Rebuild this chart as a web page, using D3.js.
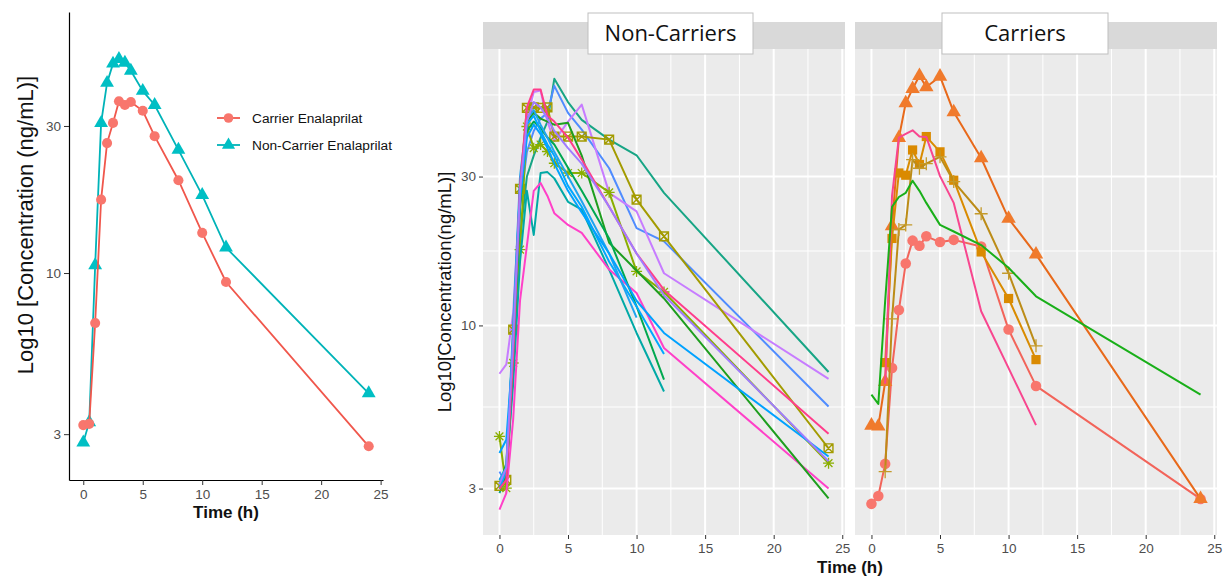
<!DOCTYPE html>
<html>
<head>
<meta charset="utf-8">
<script src="https://cdn.jsdelivr.net/npm/d3@7"></script>
<style>
  body { margin: 0; background: #fff; }
  text { font-family: Arial, "Liberation Sans", sans-serif; }
</style>
</head>
<body>
<div id="chart"></div>
<script>
// sampling times (h)
const hours = [0, 0.5, 1, 1.5, 2, 2.5, 3, 3.5, 4, 5, 6, 8, 10, 12, 24];
const xTicks = [0, 5, 10, 15, 20, 25];
const yTicks = [3, 10, 30];
const facetNames = ["Non-Carriers", "Carriers"];
const legendNames = ["Carrier Enalaprilat", "Non-Carrier Enalaprilat"];

// left panel: mean profiles
const carrierMean    = [3.21, 3.24, 6.88, 17.3, 26.4, 30.7, 36.1, 35.1, 35.9, 33.6, 27.8, 20.0, 13.5, 9.35, 2.74];
const nonCarrierMean = [2.82, 3.28, 10.6, 30.7, 41.4, 47.8, 49.5, 48.1, 45.3, 39.0, 35.1, 25.1, 17.9, 12.1, 4.07];

// non-carrier individuals
const nc01 = [2.9, 3.3, 7.5, 19, 30, 35, 40, 45, 61.7, 52, 45.6, 39.4, 35.1, 26.6, 7.09];
const nc02 = [3.4, 3.1, 8.5, 24, 36, 42, 46, 48, 58.6, 48, 42.4, 31.9, 20.5, 18.6, 5.5];
const nc03 = [7.0, 7.5, 11, 27, 46, 56, 56.6, 45, 39, 45, 51, 26.6, 23.2, 14.7, 6.74];
const nc04 = [3.06, 3.2, 9.7, 27.4, 49.8, 50, 49.8, 50, 40.3, 40.3, 40.3, 39.4, 25.3, 19.3, 4.04];
const nc05 = [4.41, 3.01, 7.58, 17.5, 43.4, 37, 38, 36.1, 33.1, 30.8, 30.8, 26.7, 14.9, 12.8, 3.62];
const nc06 = [3.2, 3.4, 6.5, 16, 27, 19.5, 30.8, 31, 29.6, 24.9, 23.5, 15.1, 9.46, 6.14, null];
const nc07 = [2.57, 2.9, 5, 12, 18, 27, 28.6, 26, 22.9, 21, 19.8, 15.1, 12.7, 8.47, 3.0];
const nc08 = [3.0, 3.3, 8, 24, 45, 48, 46, 45, 44, 44.6, 35, 18.4, 15, 12.2, 2.79];
const nc09 = [3.1, 3.6, 9, 26, 42, 45, 43, 40, 38, 32, 27, 19, 11.5, 6.7, null];
const nc10 = [3.0, 3.4, 9, 28, 44, 47, 42, 38, 35, 28, 24, 16, 11.5, 8.1, null];
const nc11 = [3.2, 3.5, 10, 30, 46, 49, 44, 40, 36, 30, 25, 17, 10.6, null, null];
const nc12 = [3.9, 4.3, 8.5, 25, 40, 44, 41, 37, 33, 27, 23, 17, 12, 9.46, 3.8];
const nc13 = [3.0, 3.2, 8, 28, 50, 57, 57, 47, 45, 40, 34, 24, 17, 13, 4.5];
const nc14 = [3.1, 3.5, 9, 27, 45, 52, 50, 46, 42, 37, 33, 24, 17, 12.5, 3.67];

// carrier individuals
const c01 = [2.68, 2.84, 3.6, 7.3, 11.2, 15.8, 18.7, 18.0, 19.3, 18.5, 18.8, 17.9, 9.7, 6.4, 2.78];
const c02 = [4.78, 4.75, 6.6, 20.8, 39.9, 51.6, 57.3, 63.1, 58.1, 62.8, 48.3, 34.4, 22.0, 16.9, 2.78];
const c03 = [null, null, 7.6, 19.0, 30.8, 30.3, 36.5, 32.8, 40.3, 36.0, 29.2, 17.2, 12.2, 7.77, null];
const c04 = [null, null, 3.4, 10.5, 20.3, 21, 34, 31.9, 33, 34.7, 28.9, 22.8, 14.7, 8.6, null];
const c05 = [null, null, 6.5, 26, 40, 41.1, 42.2, 40.3, 40.2, 30.1, 24.7, 11.1, 7.3, 4.79, null];
const c06 = [6.0, 5.6, 12, 24, 25.8, 26.6, 29.1, 27, 24.7, 21.0, 20.0, 18.1, 15.3, 12.4, 6.0];

const nonCarriers = [nc01, nc02, nc03, nc04, nc05, nc06, nc07, nc08, nc09, nc10, nc11, nc12, nc13, nc14];
const carriers = [c01, c02, c03, c04, c05, c06];

// styles
const ncColors = ["#17A585", "#4F8CFF", "#C77CFF", "#A39B00", "#8AAE00", "#00A9A6", "#FF40C8",
                  "#1E9E1E", "#00A850", "#00A8FF", "#1FA4F0", "#00A2FF", "#FF3D8B", "#A07CFF"];
const ncShapes = [null, null, null, "squarecross", "asterisk", null, null, null, null, null, null, null, null, null];
const cColors  = ["#F2645A", "#E8691A", "#D98B00", "#BC8C17", "#F8468F", "#19AF19"];
const cFills   = ["#F8766D", "#F07A2C", "#DA8A00", "#C49A2A", null, null];
const cShapes  = ["circle", "triangle", "square", "plus", null, null];

const svg = d3.select("#chart").append("svg")
    .attr("width", 1223)
    .attr("height", 579);

function toPoints(vals) {
    return hours.map((h, i) => ({t: h, v: vals[i]}));
}

function drawMarker(g, shape, x, y, color, fill, scale) {
    scale = scale || 1;
    if (shape == "circle") {
        g.append("circle").attr("cx", x).attr("cy", y).attr("r", 4.8 * scale).attr("fill", fill);
    } else if (shape == "triangle") {
        g.append("path").attr("transform", `translate(${x},${y})`)
            .attr("d", d3.symbol(d3.symbolTriangle, 75 * scale * scale)()).attr("fill", fill);
    } else if (shape == "square") {
        g.append("rect").attr("x", x - 4.6).attr("y", y - 4.6).attr("width", 9.2).attr("height", 9.2).attr("fill", fill);
    } else if (shape == "squarecross") {
        const s = 4.4;
        g.append("path")
            .attr("d", `M${x-s},${y-s}H${x+s}V${y+s}H${x-s}Z M${x-s},${y-s}L${x+s},${y+s} M${x+s},${y-s}L${x-s},${y+s}`)
            .attr("fill", "none").attr("stroke", color).attr("stroke-width", 1.4);
    } else if (shape == "asterisk") {
        const s = 5.5, d = 3.9;
        g.append("path")
            .attr("d", `M${x-s},${y}H${x+s} M${x},${y-s}V${y+s} M${x-d},${y-d}L${x+d},${y+d} M${x+d},${y-d}L${x-d},${y+d}`)
            .attr("fill", "none").attr("stroke", color).attr("stroke-width", 1.3);
    } else if (shape == "plus") {
        const s = 6.5;
        g.append("path")
            .attr("d", `M${x-s},${y}H${x+s} M${x},${y-s}V${y+s}`)
            .attr("fill", "none").attr("stroke", fill).attr("stroke-width", 1.3);
    }
}

function styleAxis(g, fontSize) {
    g.selectAll("text").attr("fill", "#4D4D4D").attr("font-size", fontSize);
    g.selectAll(".tick line").attr("stroke", "#333");
}

// ---------- left panel ----------
const xL = d3.scaleLinear().domain([-1.2, 25.2]).range([69, 383]);
const yL = d3.scaleLog().domain([2.13, 70.3]).range([480, 12]);

const left = svg.append("g");
const axL = left.append("g").attr("transform", "translate(0,480)")
    .call(d3.axisBottom(xL).tickValues(xTicks).tickSize(5).tickSizeOuter(0).tickPadding(4));
const ayL = left.append("g").attr("transform", "translate(69,0)")
    .call(d3.axisLeft(yL).tickValues(yTicks).tickFormat(d3.format("d")).tickSize(5).tickSizeOuter(0).tickPadding(3));
[axL, ayL].forEach(a => {
    a.select(".domain").attr("stroke", "#000").attr("stroke-width", 1.2);
    styleAxis(a, 13.5);
});

const lineL = d3.line().x(d => xL(d.t)).y(d => yL(d.v));
const meanData = [
    {vals: nonCarrierMean, color: "#00B3B8", fill: "#00BFC4", shape: "triangle"},
    {vals: carrierMean, color: "#F0574C", fill: "#F8766D", shape: "circle"}
];
meanData.forEach(s => {
    const pts = toPoints(s.vals);
    left.append("path").attr("d", lineL(pts)).attr("fill", "none")
        .attr("stroke", s.color).attr("stroke-width", 1.8);
    const mg = left.append("g");
    pts.forEach(p => drawMarker(mg, s.shape, xL(p.t), yL(p.v), s.color, s.fill, 1.05));
});

// legend
const legend = left.append("g");
[{y: 118, color: "#F0574C", fill: "#F8766D", shape: "circle"},
 {y: 145, color: "#00B3B8", fill: "#00BFC4", shape: "triangle"}].forEach((l, i) => {
    legend.append("line").attr("x1", 217).attr("x2", 240).attr("y1", l.y).attr("y2", l.y)
        .attr("stroke", l.color).attr("stroke-width", 1.8);
    drawMarker(legend, l.shape, 228.5, l.y, l.color, l.fill, 1);
    legend.append("text").attr("x", 252).attr("y", l.y).attr("dy", "0.35em")
        .attr("font-size", 13.7).attr("fill", "#111").text(legendNames[i]);
});

left.append("text").attr("transform", "translate(25,225) rotate(-90)")
    .attr("text-anchor", "middle").attr("dy", "0.35em").attr("font-size", 22).attr("fill", "#111")
    .text("Log10 [Concentration (ng/mL)]");
left.append("text").attr("x", 226).attr("y", 512).attr("text-anchor", "middle").attr("dy", "0.35em")
    .attr("font-size", 17).attr("font-weight", "bold").attr("fill", "#111").text("Time (h)");

// ---------- facet panels ----------
const yM = d3.scaleLog().domain([2.13, 76.9]).range([535, 49]);
const minorY = [Math.sqrt(3 * 10), Math.sqrt(10 * 30), Math.sqrt(30 * 100)];
const minorX = [2.5, 7.5, 12.5, 17.5, 22.5];

const panels = [
    {x0: 483, x1: 845, data: nonCarriers, colors: ncColors, fills: ncColors, shapes: ncShapes, box: [588, 753]},
    {x0: 855, x1: 1217, data: carriers, colors: cColors, fills: cFills, shapes: cShapes, box: [942, 1108]}
];

panels.forEach((p, pi) => {
    const x = d3.scaleLinear().domain([-1.2, 25.2]).range([p.x0, p.x1]);
    const g = svg.append("g");

    g.append("rect").attr("x", p.x0).attr("y", 49).attr("width", p.x1 - p.x0).attr("height", 535 - 49)
        .attr("fill", "#EBEBEB");
    // strip
    g.append("rect").attr("x", p.x0).attr("y", 22).attr("width", p.x1 - p.x0).attr("height", 27)
        .attr("fill", "#D9D9D9");

    // grid
    g.selectAll(".minx").data(minorX).join("line")
        .attr("x1", d => x(d)).attr("x2", d => x(d)).attr("y1", 49).attr("y2", 535)
        .attr("stroke", "#fff").attr("stroke-width", 1);
    g.selectAll(".miny").data(minorY).join("line").attr("class", "miny")
        .attr("x1", p.x0).attr("x2", p.x1).attr("y1", d => yM(d)).attr("y2", d => yM(d))
        .attr("stroke", "#fff").attr("stroke-width", 1);
    g.selectAll(".majx").data(xTicks).join("line").attr("class", "majx")
        .attr("x1", d => x(d)).attr("x2", d => x(d)).attr("y1", 49).attr("y2", 535)
        .attr("stroke", "#fff").attr("stroke-width", 2);
    g.selectAll(".majy").data(yTicks).join("line").attr("class", "majy")
        .attr("x1", p.x0).attr("x2", p.x1).attr("y1", d => yM(d)).attr("y2", d => yM(d))
        .attr("stroke", "#fff").attr("stroke-width", 2);

    // axes
    const ax = g.append("g").attr("transform", "translate(0,535)")
        .call(d3.axisBottom(x).tickValues(xTicks).tickSize(4).tickSizeOuter(0).tickPadding(4));
    ax.select(".domain").remove();
    styleAxis(ax, 13.5);
    if (pi == 0) {
        const ay = g.append("g").attr("transform", `translate(${p.x0},0)`)
            .call(d3.axisLeft(yM).tickValues(yTicks).tickFormat(d3.format("d")).tickSize(4).tickSizeOuter(0).tickPadding(3));
        ay.select(".domain").remove();
        styleAxis(ay, 13.5);
    }

    // series
    const line = d3.line().defined(d => d.v != null).x(d => x(d.t)).y(d => yM(d.v));
    p.data.forEach((vals, i) => {
        const pts = toPoints(vals);
        g.append("path").attr("d", line(pts)).attr("fill", "none")
            .attr("stroke", p.colors[i]).attr("stroke-width", 2).attr("stroke-linejoin", "round");
        if (p.shapes[i]) {
            const mg = g.append("g");
            pts.filter(d => d.v != null).forEach(d =>
                drawMarker(mg, p.shapes[i], x(d.t), yM(d.v), p.colors[i], p.fills[i] || p.colors[i], 1.1));
        }
    });

    // facet label box
    g.append("rect").attr("x", p.box[0]).attr("y", 13).attr("width", p.box[1] - p.box[0]).attr("height", 41)
        .attr("fill", "#fff").attr("stroke", "#BFBFBF").attr("stroke-width", 1);
    g.append("text").attr("x", (p.box[0] + p.box[1]) / 2).attr("y", 33.5).attr("dy", "0.35em")
        .attr("text-anchor", "middle").attr("font-size", 22)
        .style("font-family", "'Open Sans', 'Noto Sans', sans-serif").attr("fill", "#111")
        .text(facetNames[pi]);
});

svg.append("text").attr("transform", "translate(445,292) rotate(-90)")
    .attr("text-anchor", "middle").attr("dy", "0.35em").attr("font-size", 18.5).attr("fill", "#111")
    .text("Log10[Concentration(ng/mL)]");
svg.append("text").attr("x", 850).attr("y", 567).attr("text-anchor", "middle").attr("dy", "0.35em")
    .attr("font-size", 17).attr("font-weight", "bold").attr("fill", "#111").text("Time (h)");
</script>
</body>
</html>
